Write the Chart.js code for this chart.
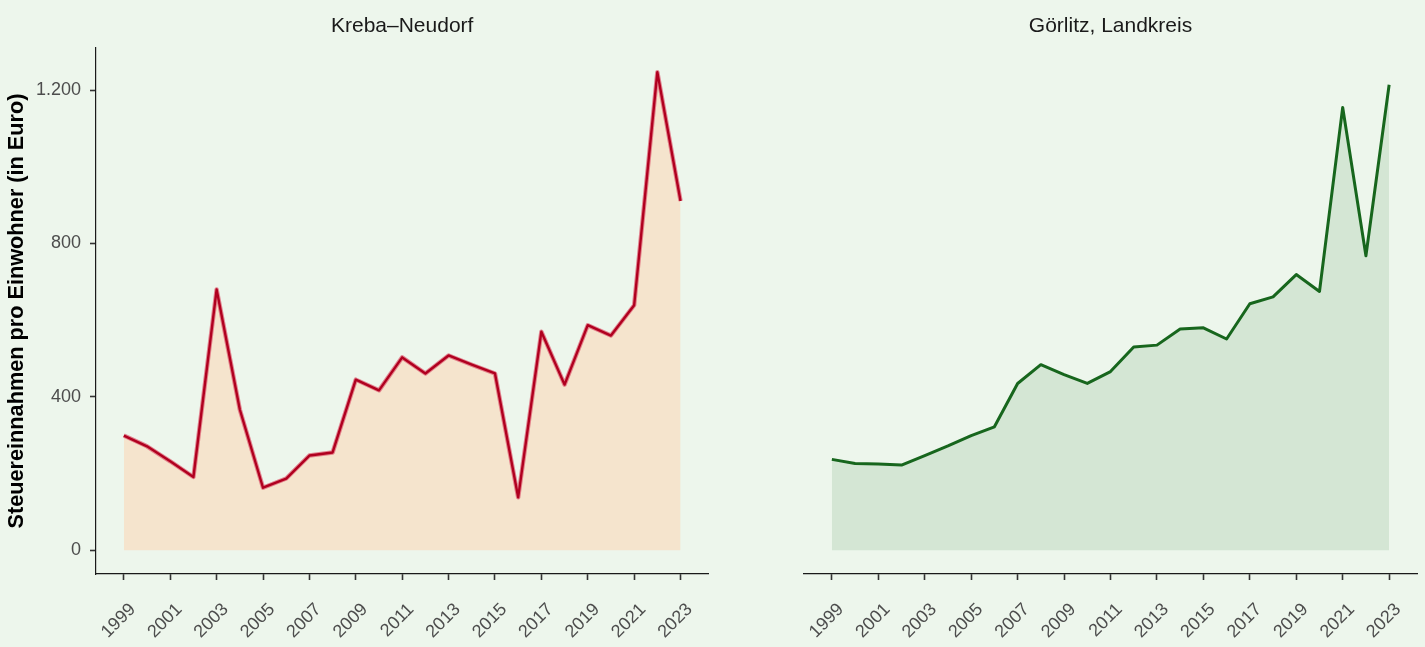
<!DOCTYPE html>
<html>
<head>
<meta charset="utf-8">
<script src="https://cdn.jsdelivr.net/npm/chart.js@4.4.1/dist/chart.umd.min.js"></script>
<style>
  html, body { margin: 0; padding: 0; background: #EDF6EC; }
  .panel { position: absolute; top: 0; height: 647px; }
  #left { left: 0; width: 715px; }
  #right { left: 712px; width: 713px; }
</style>
</head>
<body>
<div class="panel" id="left"><canvas id="krebaChart"></canvas></div>
<div class="panel" id="right"><canvas id="goerlitzChart"></canvas></div>
<script>
const years = [1999, 2000, 2001, 2002, 2003, 2004, 2005, 2006, 2007, 2008, 2009, 2010, 2011,
               2012, 2013, 2014, 2015, 2016, 2017, 2018, 2019, 2020, 2021, 2022, 2023];
const yearTicks = [1999, 2001, 2003, 2005, 2007, 2009, 2011, 2013, 2015, 2017, 2019, 2021, 2023];
const valueTicks = [0, 400, 800, 1200];

const krebaValues = [299, 271, 232, 191, 680, 367, 163, 187, 247, 255, 445, 417, 503,
                     461, 508, 484, 461, 138, 570, 432, 587, 560, 639, 1247, 911];
const goerlitzValues = [237, 226, 225, 222, 247, 272, 299, 322, 435, 484, 458, 435, 466,
                        530, 535, 577, 580, 551, 643, 661, 719, 675, 1155, 768, 1214];

const FONT = "'Liberation Sans', Arial, sans-serif";

function points(values) {
    return years.map((yr, i) => ({ x: yr, y: values[i] }));
}

// format like R's big.mark = "."
function deNumber(v) {
    return String(v).replace(/\B(?=(\d{3})+(?!\d))/g, '.');
}

// strip title drawn over the middle of the plot area
const stripTitle = {
    id: 'stripTitle',
    afterDraw(chart, args, opts) {
        const ctx = chart.ctx;
        const area = chart.chartArea;
        ctx.save();
        ctx.font = '21px ' + FONT;
        ctx.fillStyle = '#1A1A1A';
        ctx.textAlign = 'center';
        ctx.textBaseline = 'middle';
        ctx.fillText(opts.text, (area.left + area.right) / 2, 26);
        ctx.restore();
    }
};

function makeChart(id, values, fillColor, lineColor, haloColor, title, showY) {
    // index 0 is drawn on top: line first, then halo + area below it
    const datasets = [{
        data: points(values),
        fill: false,
        borderColor: lineColor,
        borderWidth: haloColor ? 2.4 : 3,
        borderJoinStyle: 'round',
        pointRadius: 0,
        tension: 0
    }, {
        data: points(values),
        fill: 'origin',
        backgroundColor: fillColor,
        borderColor: haloColor || 'rgba(0,0,0,0)',
        borderWidth: haloColor ? 4.4 : 0,
        borderJoinStyle: 'round',
        pointRadius: 0,
        tension: 0
    }];

    return new Chart(document.getElementById(id), {
        type: 'line',
        data: { datasets: datasets },
        plugins: [stripTitle],
        options: {
            responsive: true,
            maintainAspectRatio: false,
            animation: false,
            layout: {
                padding: { top: 48, right: showY ? 4 : 8, left: showY ? 0 : 92, bottom: 0 }
            },
            plugins: {
                legend: { display: false },
                tooltip: { enabled: false },
                stripTitle: { text: title }
            },
            scales: {
                x: {
                    type: 'linear',
                    min: 1997.8,
                    max: 2024.2,
                    afterBuildTicks: (scale) => { scale.ticks = yearTicks.map(v => ({ value: v })); },
                    afterFit: (scale) => { scale.height = 73; },
                    border: { display: true, color: '#1A1A1A', width: 1.2 },
                    grid: { display: true, drawOnChartArea: false, drawTicks: true,
                            tickLength: 6, tickColor: '#333333', tickWidth: 1.6 },
                    ticks: {
                        autoSkip: false,
                        minRotation: 45,
                        maxRotation: 45,
                        padding: 19,
                        labelOffset: 9,
                        color: '#4D4D4D',
                        font: { family: FONT, size: 18 },
                        callback: (v) => String(v)
                    }
                },
                y: {
                    display: showY,
                    min: -62,
                    max: 1310,
                    afterBuildTicks: (scale) => { scale.ticks = valueTicks.map(v => ({ value: v })); },
                    afterFit: (scale) => { scale.width = showY ? 96 : 0; },
                    border: { display: true, color: '#1A1A1A', width: 1.2 },
                    grid: { display: true, drawOnChartArea: false, drawTicks: true,
                            tickLength: 6, tickColor: '#333333', tickWidth: 1.6 },
                    title: {
                        display: true,
                        text: 'Steuereinnahmen pro Einwohner (in Euro)',
                        color: '#000000',
                        font: { family: FONT, size: 21.7, weight: 'bold' },
                        padding: { top: 4, bottom: 0 }
                    },
                    ticks: {
                        padding: 9,
                        color: '#4D4D4D',
                        font: { family: FONT, size: 18 },
                        callback: (v) => deNumber(v)
                    }
                }
            }
        }
    });
}

makeChart('krebaChart', krebaValues, '#F5E4CD', '#B0001F', 'rgba(222, 95, 115, 0.75)', 'Kreba\u2013Neudorf', true);
makeChart('goerlitzChart', goerlitzValues, '#D4E6D4', '#17661D', null, 'Görlitz, Landkreis', false);
</script>
</body>
</html>
